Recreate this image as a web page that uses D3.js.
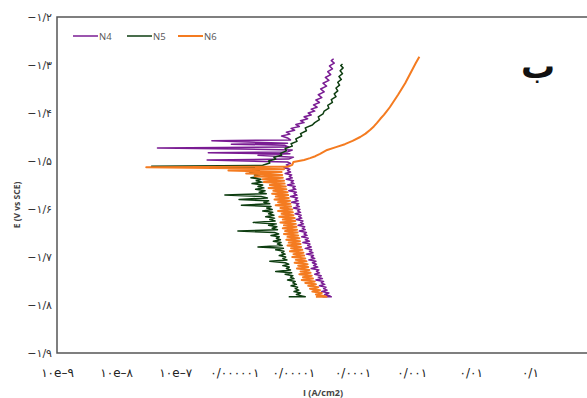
<!DOCTYPE html>
<html><head><meta charset="utf-8">
<script src="https://cdn.jsdelivr.net/npm/d3@7"></script>
<style>html,body{margin:0;padding:0;background:#fff;overflow:hidden}</style>
</head><body>
<script>
// ---- data: [E (V vs SCE), log10 I (A/cm2)] ----
const seriesNames = ["N4", "N5", "N6"];
const seriesColors = ["#7a1c93", "#0d3d10", "#f47b20"];

const n4Curve = [
[-1.783,-4.35],[-1.783,-4.50],[-1.781,-4.38],[-1.778,-4.47],[-1.775,-4.40],[-1.772,-4.52],[-1.769,-4.43],[-1.766,-4.49],[-1.763,-4.45],[-1.760,-4.56],
[-1.757,-4.47],[-1.754,-4.53],[-1.751,-4.49],[-1.748,-4.62],[-1.745,-4.51],[-1.742,-4.58],[-1.739,-4.53],[-1.736,-4.64],[-1.733,-4.56],[-1.730,-4.61],
[-1.727,-4.57],[-1.724,-4.70],[-1.721,-4.59],[-1.718,-4.66],[-1.715,-4.61],[-1.712,-4.68],[-1.709,-4.62],[-1.706,-4.74],[-1.703,-4.64],[-1.700,-4.70],
[-1.697,-4.66],[-1.694,-4.78],[-1.691,-4.67],[-1.688,-4.73],[-1.685,-4.69],[-1.682,-4.80],[-1.679,-4.70],[-1.676,-4.76],[-1.673,-4.72],[-1.670,-4.84],
[-1.667,-4.73],[-1.664,-4.80],[-1.661,-4.75],[-1.658,-4.86],[-1.655,-4.77],[-1.652,-4.82],[-1.649,-4.78],[-1.646,-4.90],[-1.643,-4.80],[-1.640,-4.85],
[-1.637,-4.81],[-1.634,-4.92],[-1.631,-4.83],[-1.628,-4.88],[-1.625,-4.84],[-1.622,-4.95],[-1.619,-4.86],[-1.616,-4.91],[-1.613,-4.87],[-1.610,-4.97],
[-1.607,-4.88],[-1.604,-4.93],[-1.601,-4.89],[-1.598,-5.00],[-1.595,-4.90],[-1.592,-4.95],[-1.589,-4.91],[-1.586,-5.03],[-1.583,-4.92],[-1.580,-4.97],
[-1.577,-4.93],[-1.574,-5.05],[-1.571,-4.94],[-1.568,-4.99],[-1.565,-4.95],[-1.562,-5.08],[-1.559,-4.96],[-1.556,-5.01],[-1.553,-4.97],[-1.550,-5.10],
[-1.547,-4.99],[-1.544,-5.04],[-1.541,-5.00],[-1.538,-5.12],[-1.535,-5.02],[-1.532,-5.07],[-1.529,-5.03],[-1.526,-5.14],[-1.523,-5.05],[-1.520,-5.10],
[-1.517,-5.06],[-1.514,-5.16],[-1.511,-5.07],[-1.508,-5.12],[-1.505,-5.05],
[-1.502,-5.10],[-1.498,-6.46],[-1.496,-5.08],[-1.492,-5.00],[-1.488,-5.60],[-1.485,-5.06],[-1.483,-6.44],[-1.481,-5.10],[-1.477,-5.02],[-1.475,-5.90],
[-1.473,-7.30],[-1.471,-5.08],[-1.467,-5.15],[-1.465,-6.05],[-1.463,-5.10],[-1.458,-6.38],[-1.456,-5.05],
[-1.452,-5.10],[-1.448,-5.20],[-1.444,-5.06],[-1.440,-5.12],[-1.436,-4.98],[-1.432,-5.04],[-1.428,-4.90],[-1.424,-4.96],[-1.420,-4.82],[-1.416,-4.88],
[-1.412,-4.76],[-1.408,-4.82],[-1.404,-4.70],[-1.400,-4.75],[-1.396,-4.64],[-1.392,-4.70],[-1.388,-4.60],[-1.383,-4.66],[-1.378,-4.56],[-1.373,-4.62],
[-1.368,-4.52],[-1.362,-4.58],[-1.356,-4.48],[-1.350,-4.54],[-1.344,-4.44],[-1.338,-4.50],[-1.332,-4.40],[-1.326,-4.46],[-1.320,-4.37],[-1.314,-4.42],
[-1.308,-4.34],[-1.302,-4.39],[-1.296,-4.31],[-1.291,-4.36],[-1.287,-4.32]
];

const n5Curve = [
[-1.783,-5.08],[-1.783,-4.80],[-1.781,-4.86],[-1.778,-4.95],[-1.775,-4.88],[-1.772,-4.99],[-1.769,-4.91],[-1.766,-4.97],[-1.763,-4.93],[-1.760,-5.04],
[-1.757,-4.95],[-1.754,-5.01],[-1.751,-4.97],[-1.748,-5.10],[-1.745,-4.99],[-1.742,-5.05],[-1.739,-5.01],[-1.736,-5.14],[-1.733,-5.03],[-1.730,-5.30],
[-1.727,-5.05],[-1.724,-5.12],[-1.721,-5.07],[-1.718,-5.18],[-1.715,-5.08],[-1.712,-5.14],[-1.709,-5.40],[-1.706,-5.11],[-1.703,-5.18],[-1.700,-5.13],
[-1.697,-5.24],[-1.694,-5.14],[-1.691,-5.20],[-1.688,-5.16],[-1.685,-5.30],[-1.682,-5.17],[-1.679,-5.60],[-1.676,-5.19],[-1.673,-5.27],[-1.670,-5.21],
[-1.667,-5.34],[-1.664,-5.22],[-1.661,-5.29],[-1.658,-5.24],[-1.655,-5.38],[-1.652,-5.25],[-1.649,-5.32],[-1.646,-5.94],[-1.643,-5.27],[-1.640,-5.36],
[-1.637,-5.28],[-1.634,-5.42],[-1.631,-5.29],[-1.628,-5.68],[-1.625,-5.31],[-1.622,-5.40],[-1.619,-5.32],[-1.616,-5.47],[-1.613,-5.33],[-1.610,-5.42],
[-1.607,-5.35],[-1.604,-5.52],[-1.601,-5.36],[-1.598,-5.45],[-1.595,-5.38],[-1.592,-5.88],[-1.589,-5.40],[-1.586,-5.50],[-1.583,-5.42],[-1.580,-5.92],
[-1.577,-5.44],[-1.574,-5.55],[-1.571,-6.16],[-1.568,-5.46],[-1.565,-5.58],[-1.562,-5.48],[-1.559,-5.64],[-1.556,-5.50],[-1.553,-5.60],[-1.550,-5.52],
[-1.547,-5.70],[-1.544,-5.53],[-1.541,-5.63],[-1.538,-5.55],[-1.535,-5.72],[-1.532,-5.56],[-1.529,-5.66],[-1.526,-5.57],[-1.523,-5.74],[-1.520,-5.58],
[-1.517,-5.68],[-1.514,-5.59],[-1.511,-7.40],[-1.509,-5.52],
[-1.504,-5.40],[-1.500,-5.42],[-1.496,-5.30],[-1.492,-5.33],[-1.488,-5.20],[-1.484,-5.22],[-1.479,-5.12],[-1.474,-5.14],[-1.469,-5.02],[-1.464,-5.04],
[-1.459,-4.94],[-1.454,-4.96],[-1.448,-4.86],[-1.443,-4.88],[-1.437,-4.78],[-1.431,-4.80],[-1.425,-4.68],[-1.420,-4.64],[-1.414,-4.56],[-1.408,-4.58],
[-1.402,-4.50],[-1.396,-4.48],[-1.390,-4.40],[-1.384,-4.42],[-1.378,-4.34],[-1.372,-4.36],[-1.366,-4.28],[-1.360,-4.31],[-1.354,-4.25],[-1.348,-4.28],
[-1.342,-4.22],[-1.336,-4.25],[-1.330,-4.19],[-1.324,-4.23],[-1.318,-4.17],[-1.312,-4.21],[-1.306,-4.16],[-1.301,-4.20],[-1.298,-4.17]
];

const n6Curve = [
[-1.783,-4.62],[-1.783,-4.44],[-1.781,-4.48],[-1.778,-4.62],[-1.775,-4.52],[-1.772,-4.68],[-1.769,-4.55],[-1.766,-4.72],[-1.763,-4.58],[-1.760,-4.75],
[-1.757,-4.62],[-1.754,-4.80],[-1.751,-4.64],[-1.748,-4.86],[-1.745,-4.67],[-1.742,-4.84],[-1.739,-4.69],[-1.736,-4.90],[-1.733,-4.71],[-1.730,-4.88],
[-1.727,-4.73],[-1.724,-4.94],[-1.721,-4.75],[-1.718,-4.92],[-1.715,-4.76],[-1.712,-4.98],[-1.709,-4.78],[-1.706,-4.96],[-1.703,-4.80],[-1.700,-5.02],
[-1.697,-4.82],[-1.694,-5.00],[-1.691,-4.83],[-1.688,-5.06],[-1.685,-4.85],[-1.682,-5.04],[-1.679,-4.87],[-1.676,-5.10],[-1.673,-4.88],[-1.670,-5.08],
[-1.667,-4.89],[-1.664,-5.12],[-1.661,-4.90],[-1.658,-5.10],[-1.655,-4.92],[-1.652,-5.16],[-1.649,-4.93],[-1.646,-5.14],[-1.643,-4.94],[-1.640,-5.18],
[-1.637,-4.95],[-1.634,-5.16],[-1.631,-4.96],[-1.628,-5.22],[-1.625,-4.97],[-1.622,-5.18],[-1.619,-4.98],[-1.616,-5.24],[-1.613,-5.00],[-1.610,-5.20],
[-1.607,-5.01],[-1.604,-5.26],[-1.601,-5.02],[-1.598,-5.22],[-1.595,-5.04],[-1.592,-5.30],[-1.589,-5.05],[-1.586,-5.26],[-1.583,-5.06],[-1.580,-5.32],
[-1.577,-5.08],[-1.574,-5.30],[-1.571,-5.09],[-1.568,-5.36],[-1.565,-5.10],[-1.562,-5.34],[-1.559,-5.12],[-1.556,-5.42],[-1.553,-5.13],[-1.550,-5.40],
[-1.547,-5.15],[-1.544,-5.50],[-1.541,-5.16],[-1.538,-5.52],[-1.535,-5.18],[-1.532,-5.65],[-1.529,-5.19],[-1.526,-5.80],[-1.523,-5.20],[-1.520,-6.10],
[-1.517,-5.16],[-1.515,-6.00],[-1.513,-7.49],[-1.512,-5.10],[-1.508,-5.02],
[-1.502,-5.00],[-1.498,-4.82],[-1.494,-4.72],[-1.490,-4.63],[-1.485,-4.55],[-1.481,-4.49],[-1.477,-4.43],[-1.471,-4.28],[-1.465,-4.13],[-1.458,-4.00],
[-1.450,-3.87],[-1.443,-3.78],[-1.435,-3.70],[-1.428,-3.64],[-1.421,-3.59],[-1.412,-3.53],[-1.404,-3.47],[-1.396,-3.42],[-1.388,-3.37],[-1.375,-3.30],
[-1.362,-3.23],[-1.350,-3.17],[-1.338,-3.11],[-1.324,-3.05],[-1.310,-2.99],[-1.296,-2.93],[-1.283,-2.87]
];

const xTickValues = [1e-9, 1e-8, 1e-7, 1e-6, 1e-5, 1e-4, 1e-3, 1e-2, 1e-1, 1];
const xTickLabels = ["۱۰e–۹","۱۰e–۸","۱۰e–۷","۰/۰۰۰۰۰۱","۰/۰۰۰۰۱","۰/۰۰۰۱","۰/۰۰۱","۰/۰۱","۰/۱","۱"];
const yTickValues = [-1.2,-1.3,-1.4,-1.5,-1.6,-1.7,-1.8,-1.9];
const yTickLabels = ["−۱/۲","−۱/۳","−۱/۴","−۱/۵","−۱/۶","−۱/۷","−۱/۸","−۱/۹"];

// ---- drawing ----
const W = 587, H = 398;
const svg = d3.select("body").append("svg").attr("width", W).attr("height", H);
const x = d3.scaleLog().domain([1e-9, 1]).range([57, 589]);
const y = d3.scaleLinear().domain([-1.9, -1.2]).range([353, 17]);

const curves = [n4Curve, n5Curve, n6Curve];
const widths = [1.5, 1.5, 2];
const line = d3.line().x(d => x(Math.pow(10, d[1]))).y(d => y(d[0]));
curves.forEach((c, i) => {
  svg.append("path").datum(c).attr("d", line)
    .attr("fill", "none").attr("stroke", seriesColors[i])
    .attr("stroke-width", widths[i]).attr("stroke-linejoin", "round");
});

// frame
svg.append("rect").attr("x", x(1e-9)).attr("y", y(-1.2))
  .attr("width", x(1) - x(1e-9)).attr("height", y(-1.9) - y(-1.2))
  .attr("fill", "none").attr("stroke", "#555").attr("stroke-width", 1.5);

// axes
const xAxis = d3.axisBottom(x).tickValues(xTickValues).tickSize(0).tickPadding(0)
  .tickFormat((d, i) => xTickLabels[i]);
const gx = svg.append("g").attr("transform", `translate(0,${y(-1.9)})`).call(xAxis);
gx.select(".domain").remove();
gx.selectAll("text").attr("dy", "2em").attr("font-family", "DejaVu Sans")
  .attr("font-size", 12).attr("fill", "#222").attr("direction", "ltr");

const yAxis = d3.axisLeft(y).tickValues(yTickValues).tickSize(0).tickPadding(5)
  .tickFormat((d, i) => yTickLabels[i]);
const gy = svg.append("g").attr("transform", `translate(${x(1e-9)},0)`).call(yAxis);
gy.select(".domain").remove();
gy.selectAll("text").attr("font-family", "DejaVu Sans").attr("font-size", 11)
  .attr("fill", "#333").attr("direction", "ltr");

// axis titles
svg.append("text").attr("x", 323).attr("y", 396).attr("text-anchor", "middle")
  .attr("font-family", "Open Sans").attr("font-weight", "bold").attr("font-size", 9)
  .attr("fill", "#444").text("I (A/cm2)");
svg.append("text").attr("transform", "translate(20,205) rotate(-90)").attr("text-anchor", "middle")
  .attr("font-family", "Open Sans").attr("font-weight", "bold").attr("font-size", 8.5)
  .attr("fill", "#444").text("E (V vs SCE)");

// legend
const legX = [73, 127, 178];
seriesNames.forEach((n, i) => {
  svg.append("line").attr("x1", legX[i]).attr("x2", legX[i] + 25).attr("y1", 36).attr("y2", 36)
    .attr("stroke", seriesColors[i]).attr("stroke-width", i === 2 ? 2 : 1.5);
  svg.append("text").attr("x", legX[i] + 26).attr("y", 39.5)
    .attr("font-family", "Open Sans").attr("font-size", 9.5).attr("fill", "#555").text(n);
});

// panel label
svg.append("text").attr("x", 538).attr("y", 78).attr("text-anchor", "middle")
  .attr("font-family", "DejaVu Sans").attr("font-weight", "bold").attr("font-size", 34)
  .attr("fill", "#111").text("ب");
</script>
</body></html>
